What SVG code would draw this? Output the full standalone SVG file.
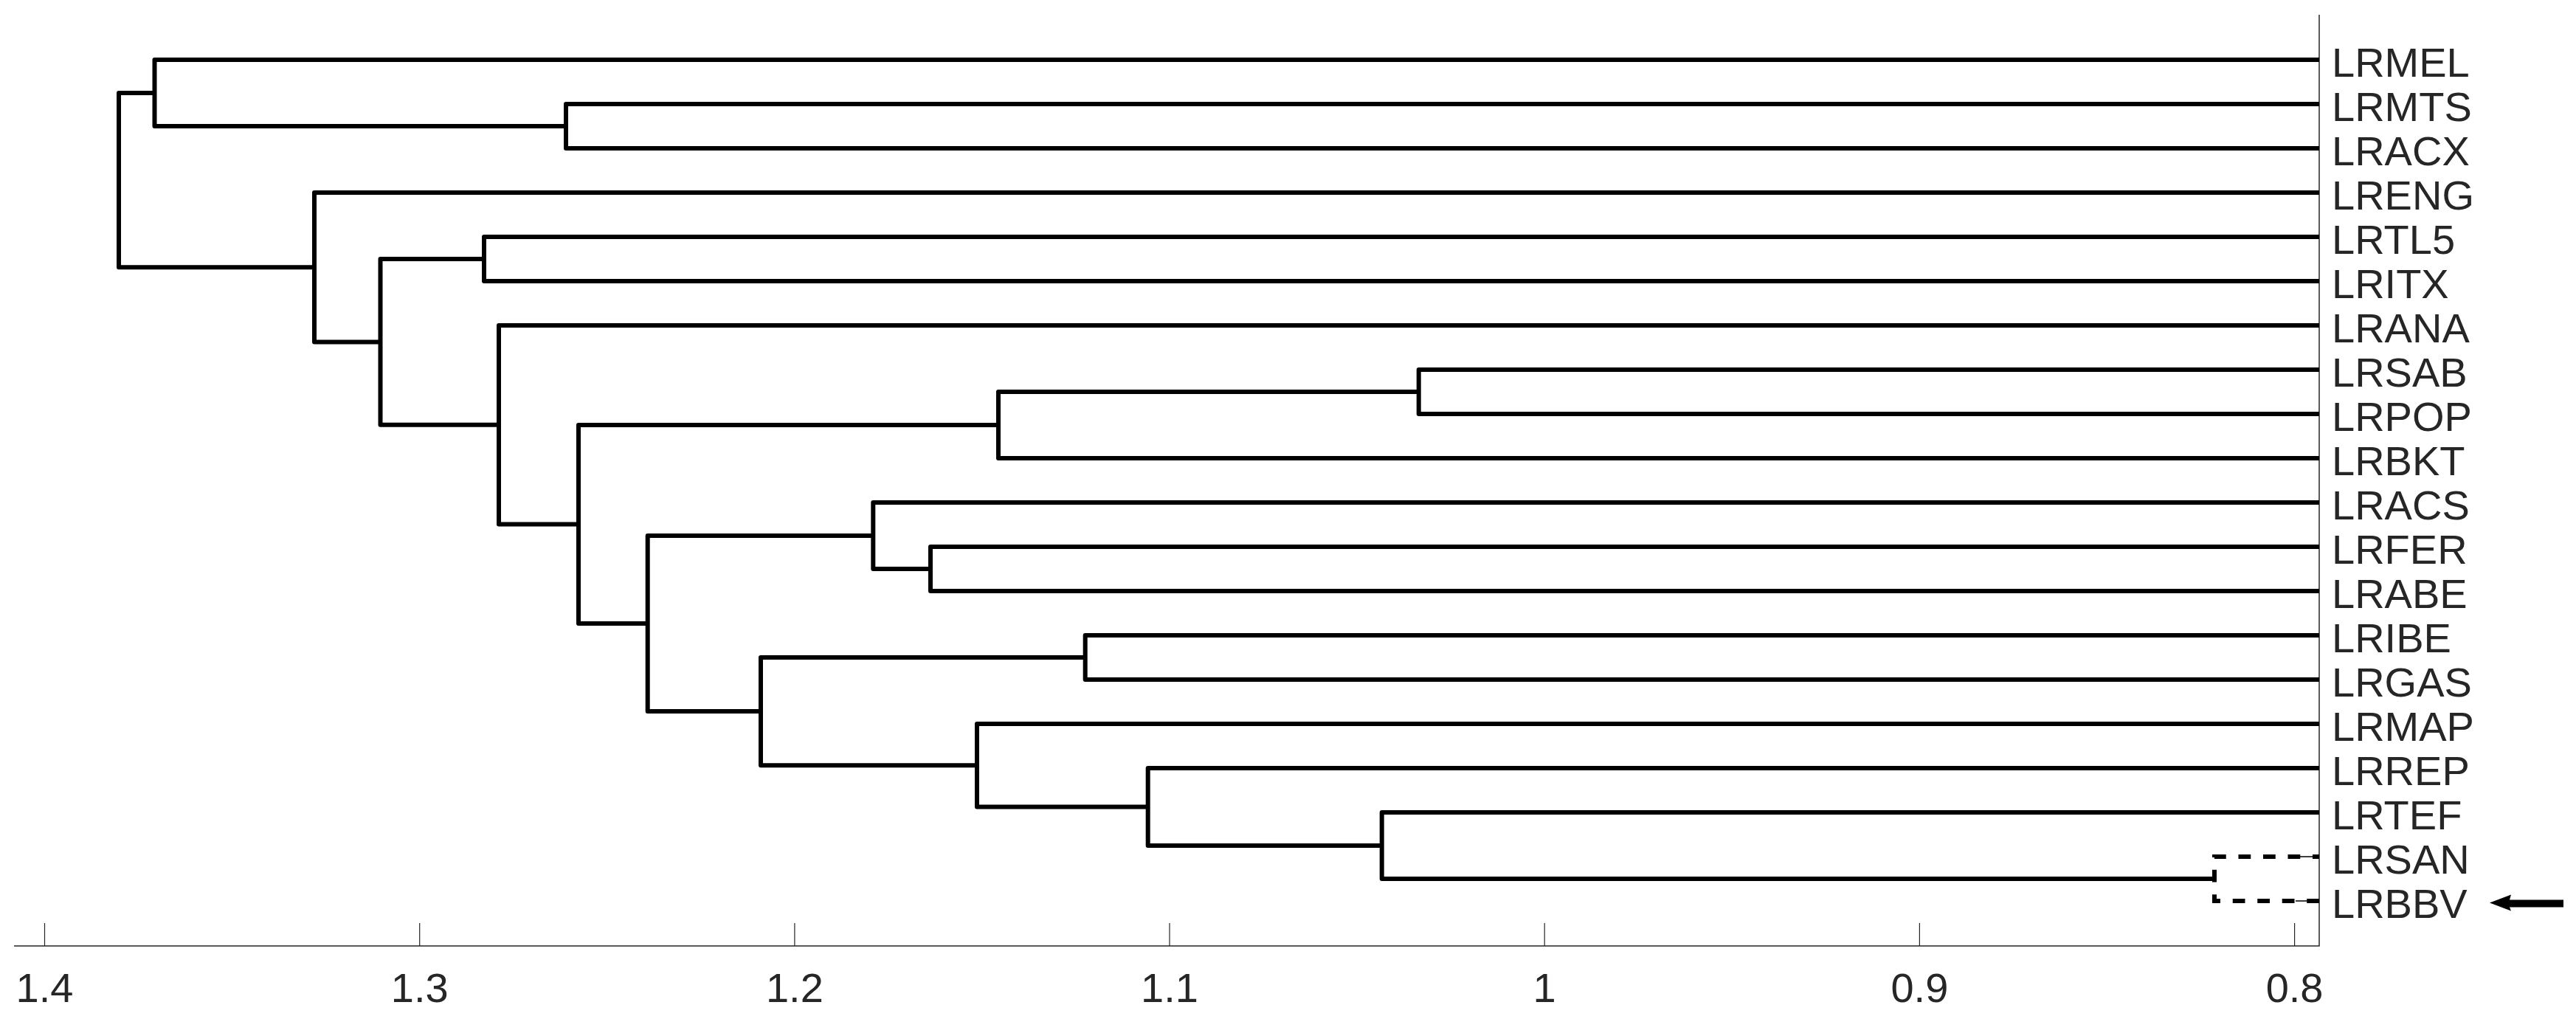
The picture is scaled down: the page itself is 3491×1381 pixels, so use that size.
<svg xmlns="http://www.w3.org/2000/svg" width="3491" height="1381" viewBox="0 0 3491 1381">
<style>
.lnk{fill:none;stroke:#000;stroke-width:6;stroke-linejoin:round;stroke-linecap:butt}
.dash{fill:none;stroke:#000;stroke-width:6;stroke-dasharray:16.75 16.75;stroke-linecap:butt}
.thin{fill:none;stroke:#000;stroke-width:1.5}
.ax{fill:none;stroke:#262626;stroke-width:1.5}
.tick{fill:none;stroke:#262626;stroke-width:1.2}
.tl{font-family:"Liberation Sans",Arial,sans-serif;font-size:56px;fill:#262626;text-anchor:middle}
.lbl{font-family:"Liberation Sans",Arial,sans-serif;font-size:56px;fill:#262626}
</style>
<rect x="0" y="0" width="3491" height="1381" fill="#fff"/>
<g id="axis">
<path class="ax" d="M19 1282 H3143 V20"/>
<path class="tick" d="M60.5 1251V1282M568.7 1251V1282M1076.9 1251V1282M1585 1251V1282M2093.2 1251V1282M2601.4 1251V1282M3109.6 1251V1282"/>
<text class="tl" x="60.5" y="1358">1.4</text>
<text class="tl" x="568.7" y="1358">1.3</text>
<text class="tl" x="1076.9" y="1358">1.2</text>
<text class="tl" x="1585" y="1358">1.1</text>
<text class="tl" x="2093.2" y="1358">1</text>
<text class="tl" x="2601.4" y="1358">0.9</text>
<text class="tl" x="3109.6" y="1358">0.8</text>
</g>
<g id="connectors">
<path class="lnk" d="M3143 141 H767 V201 H3143"/>
<path class="lnk" d="M3143 81 H209.5 V171 H767"/>
<path class="lnk" d="M3143 321 H656 V381 H3143"/>
<path class="lnk" d="M3143 501 H1922.7 V561 H3143"/>
<path class="lnk" d="M1922.7 531 H1353 V621 H3143"/>
<path class="lnk" d="M3143 741 H1261 V801 H3143"/>
<path class="lnk" d="M3143 681 H1183.3 V771 H1261"/>
<path class="lnk" d="M3143 861 H1470.7 V921 H3143"/>
<path class="lnk" d="M3143 1101 H1872.7 V1191 H3001"/>
<path class="lnk" d="M3143 1041 H1555.7 V1146 H1872.7"/>
<path class="lnk" d="M3143 981 H1324 V1093.5 H1555.7"/>
<path class="lnk" d="M1470.7 891 H1031 V1037.25 H1324"/>
<path class="lnk" d="M1183.3 726 H877.7 V964.1 H1031"/>
<path class="lnk" d="M1353 576 H784 V845.06 H877.7"/>
<path class="lnk" d="M3143 441 H676 V710.5 H784"/>
<path class="lnk" d="M656 351 H515.5 V575.8 H676"/>
<path class="lnk" d="M3143 261 H426 V463.4 H515.5"/>
<path class="lnk" d="M209.5 126 H161 V362.2 H426"/>
<path class="thin" d="M3111 1161 H3143 M3111 1221 H3143"/>
<path class="dash" d="M3143 1221 H3001 V1161 H3143"/>
</g>
<g id="leaf-LRMEL"><text class="lbl" x="3160" y="103.5">LRMEL</text></g>
<g id="leaf-LRMTS"><text class="lbl" x="3160" y="163.5">LRMTS</text></g>
<g id="leaf-LRACX"><text class="lbl" x="3160" y="223.5">LRACX</text></g>
<g id="leaf-LRENG"><text class="lbl" x="3160" y="283.5">LRENG</text></g>
<g id="leaf-LRTL5"><text class="lbl" x="3160" y="343.5">LRTL5</text></g>
<g id="leaf-LRITX"><text class="lbl" x="3160" y="403.5">LRITX</text></g>
<g id="leaf-LRANA"><text class="lbl" x="3160" y="463.5">LRANA</text></g>
<g id="leaf-LRSAB"><text class="lbl" x="3160" y="523.5">LRSAB</text></g>
<g id="leaf-LRPOP"><text class="lbl" x="3160" y="583.5">LRPOP</text></g>
<g id="leaf-LRBKT"><text class="lbl" x="3160" y="643.5">LRBKT</text></g>
<g id="leaf-LRACS"><text class="lbl" x="3160" y="703.5">LRACS</text></g>
<g id="leaf-LRFER"><text class="lbl" x="3160" y="763.5">LRFER</text></g>
<g id="leaf-LRABE"><text class="lbl" x="3160" y="823.5">LRABE</text></g>
<g id="leaf-LRIBE"><text class="lbl" x="3160" y="883.5">LRIBE</text></g>
<g id="leaf-LRGAS"><text class="lbl" x="3160" y="943.5">LRGAS</text></g>
<g id="leaf-LRMAP"><text class="lbl" x="3160" y="1003.5">LRMAP</text></g>
<g id="leaf-LRREP"><text class="lbl" x="3160" y="1063.5">LRREP</text></g>
<g id="leaf-LRTEF"><text class="lbl" x="3160" y="1123.5">LRTEF</text></g>
<g id="leaf-LRSAN"><text class="lbl" x="3160" y="1183.5">LRSAN</text></g>
<g id="leaf-LRBBV"><text class="lbl" x="3160" y="1243.5">LRBBV</text></g>
<g id="arrow">
<polygon points="3374,1223.5 3403,1212.5 3401,1219.5 3474,1219.5 3474,1229.5 3401,1229.5 3403,1234.5" fill="#000"/>
</g>
</svg>
